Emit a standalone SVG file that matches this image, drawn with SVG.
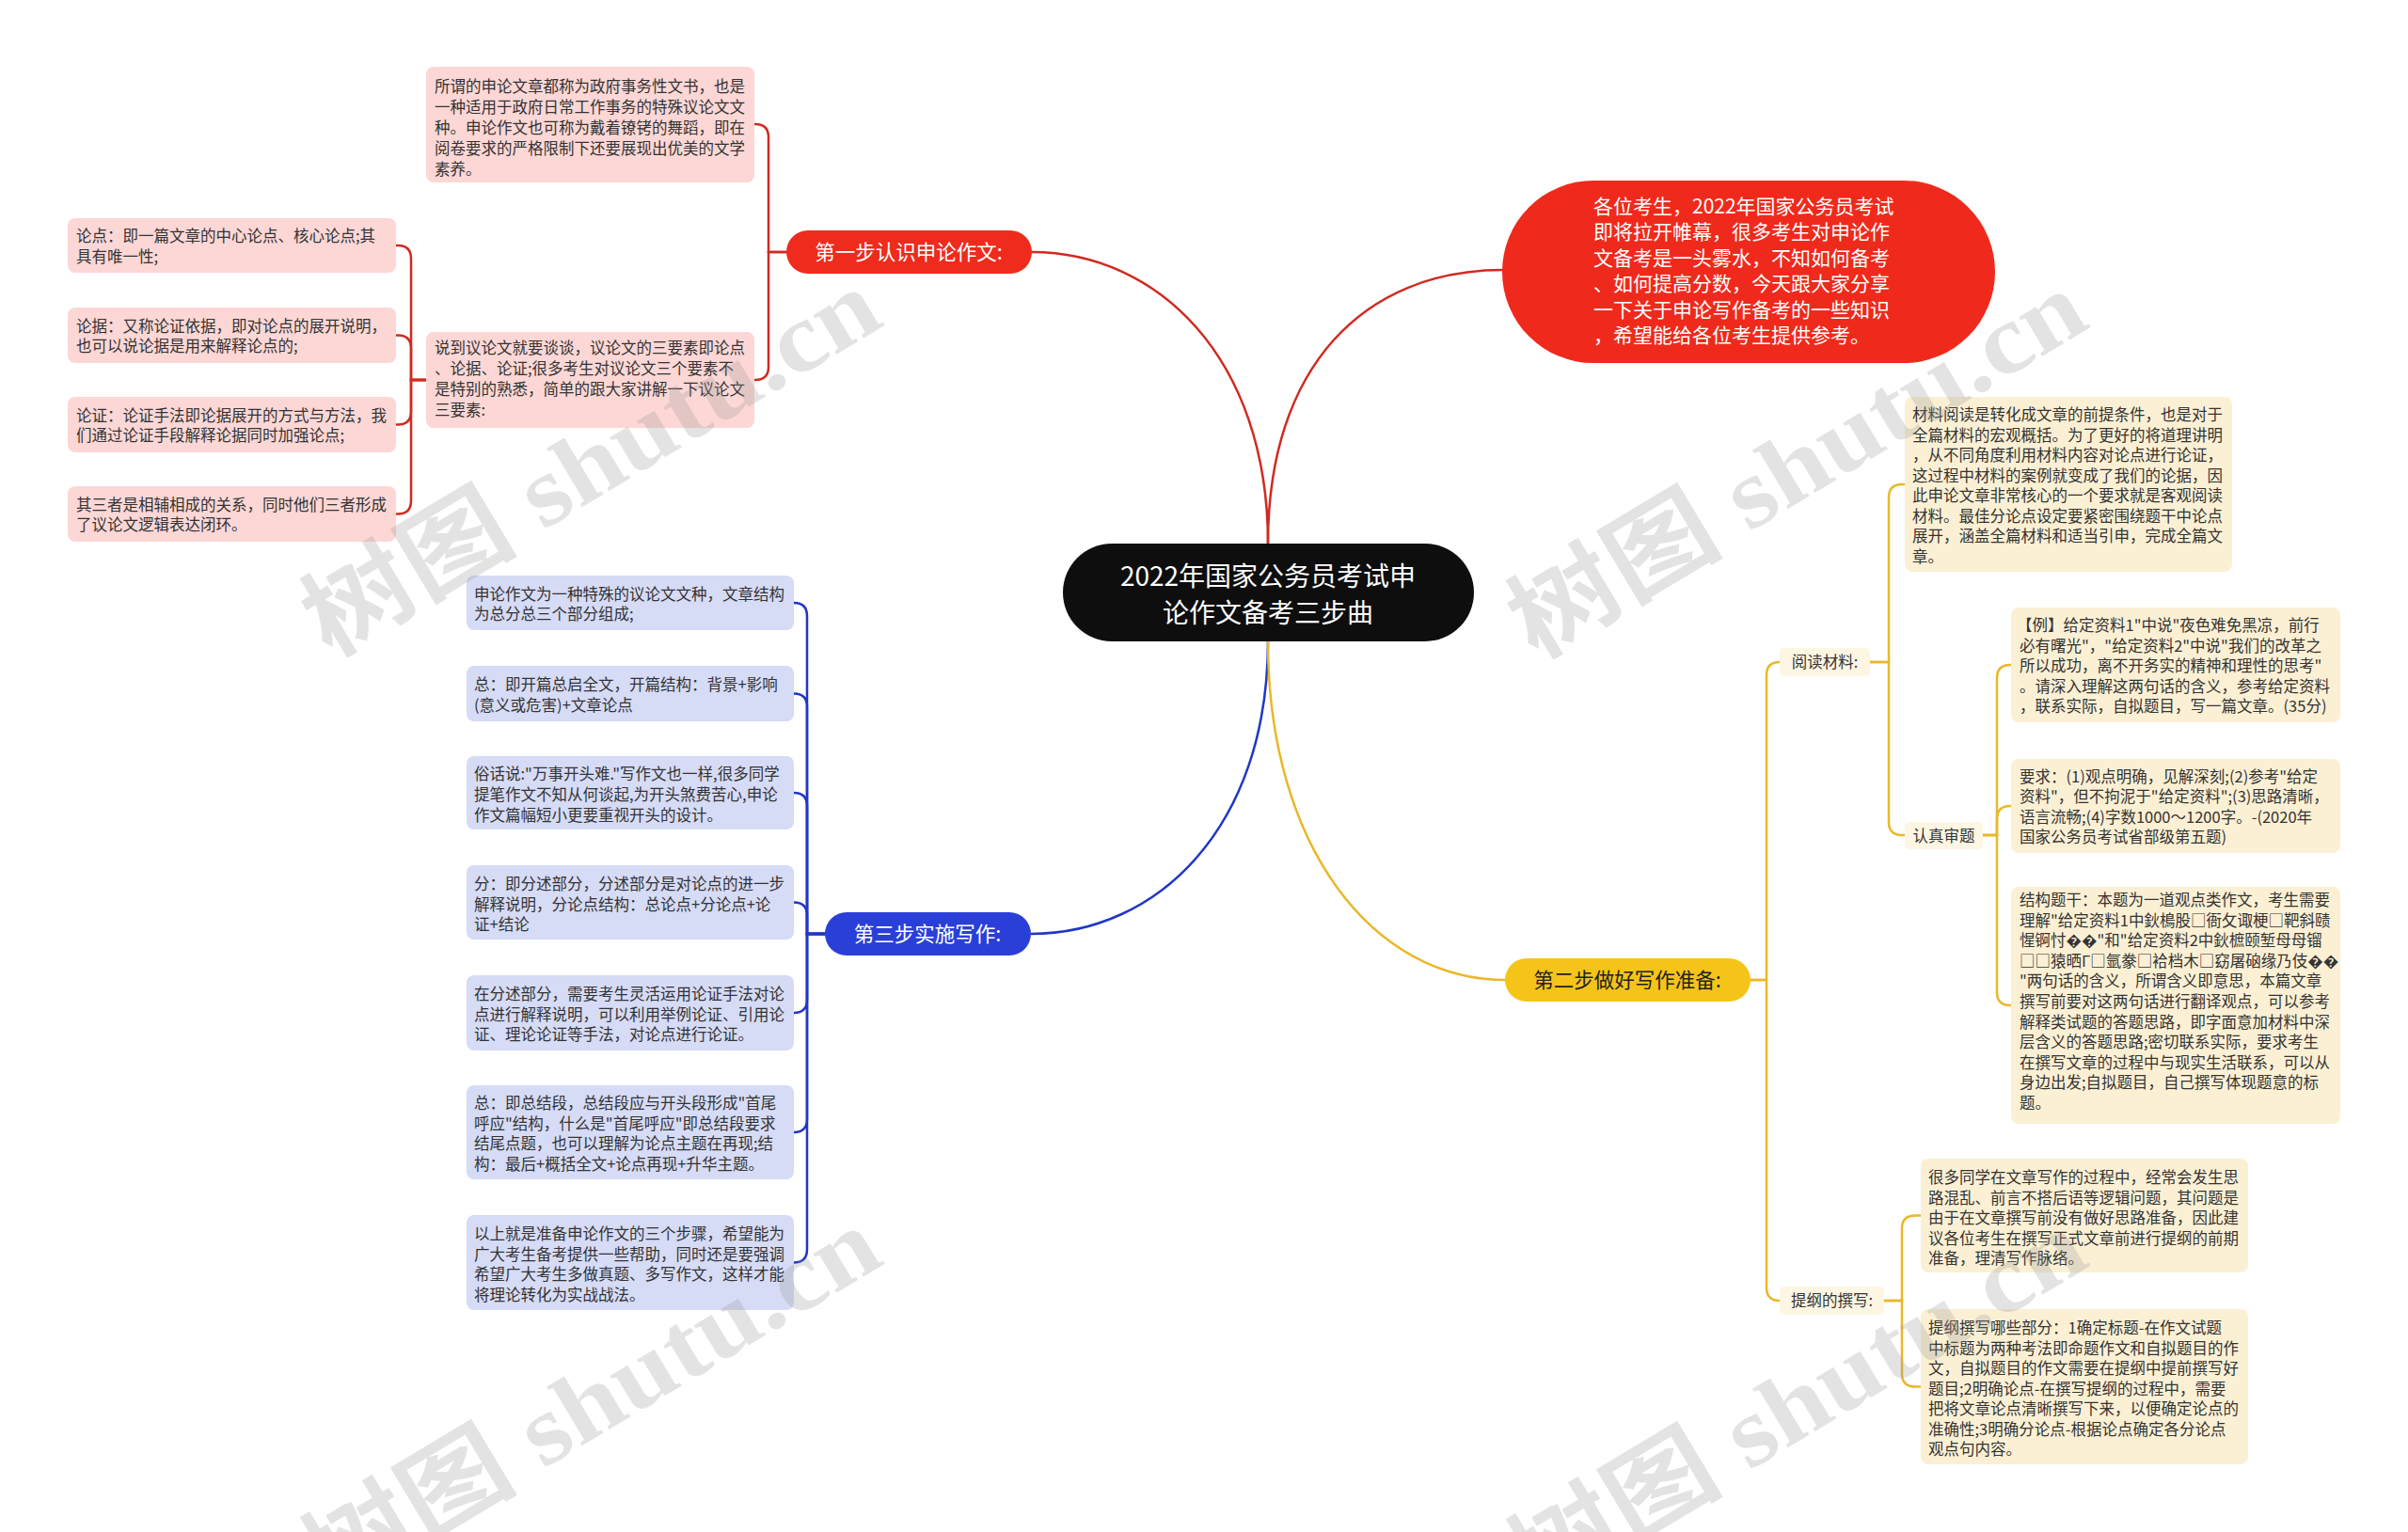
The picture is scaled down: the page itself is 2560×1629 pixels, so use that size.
<svg xmlns="http://www.w3.org/2000/svg" width="2560" height="1629" viewBox="0 0 2560 1629">
<style>
text{font-family:"Noto Sans CJK SC","Noto Sans",sans-serif;}
.leaf{font-size:16.5px;fill:#333333;}
.pk rect{fill:#fcd7d5;}
.bl rect{fill:#d6dbf6;}
.yl rect{fill:#fcf0d4;}
.lb rect{fill:#fdf6e3;}
.step{font-size:21.5px;text-anchor:middle;}
.con path{fill:none;stroke-width:2.5;stroke-linecap:round;}
.cr{stroke:#d02a20;}
.cb{stroke:#2037c4;}
.cy{stroke:#e9b82a;}
.wm{font-family:"Liberation Serif","Noto Sans CJK SC",serif;font-size:105px;font-weight:bold;fill:#9a9a9a;fill-opacity:0.28;}
</style>
<rect width="2560" height="1629" fill="#ffffff"/>
<g id="connectors" class="con">
<path class="cr" d="M1348 578 C1348 380,1230 268,1097 268"/>
<path class="cr" d="M1348 578 C1348 390,1450 287,1598 287"/>
<path class="cb" d="M1348 682 C1348 880,1230 993,1096 993"/>
<path class="cy" d="M1348 682 C1348 900,1460 1042,1600 1042"/>
<path class="cr" d="M836 268 H817 V146 Q817 132 803 132 H802"/>
<path class="cr" d="M836 268 H817 V390 Q817 404 803 404 H802"/>
<path class="cr" d="M453 404 H437 V275 Q437 261 423 261 H421"/>
<path class="cr" d="M453 404 H437 V370.5 Q437 356.5 423 356.5 H421"/>
<path class="cr" d="M453 404 H437 V437.5 Q437 451.5 423 451.5 H421"/>
<path class="cr" d="M453 404 H437 V532.5 Q437 546.5 423 546.5 H421"/>
<path class="cb" d="M877 993 H858 V655 Q858 641 844 641"/>
<path class="cb" d="M877 993 H858 V751.5 Q858 737.5 844 737.5"/>
<path class="cb" d="M877 993 H858 V857 Q858 843 844 843"/>
<path class="cb" d="M877 993 H858 V973.5 Q858 959.5 844 959.5"/>
<path class="cb" d="M877 993 H858 V1063 Q858 1077 844 1077"/>
<path class="cb" d="M877 993 H858 V1190 Q858 1204 844 1204"/>
<path class="cb" d="M877 993 H858 V1328.5 Q858 1342.5 844 1342.5"/>
<path class="cy" d="M1861 1042 H1878 V718 Q1878 704 1892 704"/>
<path class="cy" d="M1861 1042 H1878 V1369 Q1878 1383 1892 1383"/>
<path class="cy" d="M1988 704 H2008 V529 Q2008 515 2022 515 H2025"/>
<path class="cy" d="M1988 704 H2008 V874 Q2008 888 2022 888 H2025"/>
<path class="cy" d="M2108 888 H2123 V721 Q2123 707 2137 707 H2138"/>
<path class="cy" d="M2108 888 H2123 V871 Q2123 857 2137 857 H2138"/>
<path class="cy" d="M2108 888 H2123 V1055 Q2123 1069 2137 1069 H2138"/>
<path class="cy" d="M2003 1383 H2022 V1306.5 Q2022 1292.5 2036 1292.5 H2042"/>
<path class="cy" d="M2003 1383 H2022 V1460.5 Q2022 1474.5 2036 1474.5 H2042"/>
</g>
<g id="root">
<rect x="1130" y="578" width="437" height="104" rx="52" fill="#0e0e0e"/>
<text style="font-size:28px;fill:#ffffff;text-anchor:middle"><tspan x="1348" y="623">2022年国家公务员考试申</tspan><tspan x="1348" y="662">论作文备考三步曲</tspan></text>
</g>
<g id="intro">
<rect x="1597" y="192" width="524" height="194" rx="97" fill="#ef2a1c"/>
<text style="font-size:21px;fill:#ffffff"><tspan x="1694" y="226.5">各位考生，2022年国家公务员考试</tspan><tspan x="1694" y="254">即将拉开帷幕，很多考生对申论作</tspan><tspan x="1694" y="281.5">文备考是一头雾水，不知如何备考</tspan><tspan x="1694" y="309">、如何提高分数，今天跟大家分享</tspan><tspan x="1694" y="336.5">一下关于申论写作备考的一些知识</tspan><tspan x="1694" y="364">，希望能给各位考生提供参考。</tspan></text>
</g>
<g id="step1">
<rect x="836" y="245" width="261" height="46" rx="23" fill="#ee2b1d"/>
<text class="step" x="966" y="275.5" fill="#ffffff">第一步认识申论作文:</text>
</g>
<g id="step3">
<rect x="877" y="970" width="219" height="46" rx="23" fill="#2a3fd8"/>
<text class="step" x="986" y="1000.5" fill="#ffffff">第三步实施写作:</text>
</g>
<g id="step2">
<rect x="1600" y="1019" width="261" height="46" rx="23" fill="#f5c419"/>
<text class="step" x="1730" y="1049.5" fill="#222222">第二步做好写作准备:</text>
</g>
<g id="p-a" class="pk">
<rect x="453" y="71" width="349" height="123" rx="8"/>
<text class="leaf"><tspan x="462" y="98">所谓的申论文章都称为政府事务性文书，也是</tspan><tspan x="462" y="120">一种适用于政府日常工作事务的特殊议论文文</tspan><tspan x="462" y="142">种。申论作文也可称为戴着镣铐的舞蹈，即在</tspan><tspan x="462" y="164">阅卷要求的严格限制下还要展现出优美的文学</tspan><tspan x="462" y="186">素养。</tspan></text>
</g>
<g id="p-b" class="pk">
<rect x="453" y="353" width="349" height="102" rx="8"/>
<text class="leaf"><tspan x="462" y="376">说到议论文就要谈谈，议论文的三要素即论点</tspan><tspan x="462" y="398">、论据、论证;很多考生对议论文三个要素不</tspan><tspan x="462" y="420">是特别的熟悉，简单的跟大家讲解一下议论文</tspan><tspan x="462" y="442">三要素:</tspan></text>
</g>
<g id="p-1" class="pk">
<rect x="72" y="232" width="349" height="58" rx="8"/>
<text class="leaf"><tspan x="81" y="257">论点：即一篇文章的中心论点、核心论点;其</tspan><tspan x="81" y="279">具有唯一性;</tspan></text>
</g>
<g id="p-2" class="pk">
<rect x="72" y="327" width="349" height="59" rx="8"/>
<text class="leaf"><tspan x="81" y="352.5">论据：又称论证依据，即对论点的展开说明，</tspan><tspan x="81" y="374">也可以说论据是用来解释论点的;</tspan></text>
</g>
<g id="p-3" class="pk">
<rect x="72" y="422" width="349" height="59" rx="8"/>
<text class="leaf"><tspan x="81" y="447.5">论证：论证手法即论据展开的方式与方法，我</tspan><tspan x="81" y="469">们通过论证手段解释论据同时加强论点;</tspan></text>
</g>
<g id="p-4" class="pk">
<rect x="72" y="517" width="349" height="59" rx="8"/>
<text class="leaf"><tspan x="81" y="542.5">其三者是相辅相成的关系，同时他们三者形成</tspan><tspan x="81" y="564">了议论文逻辑表达闭环。</tspan></text>
</g>
<g id="b-1" class="bl">
<rect x="496" y="612" width="348" height="58" rx="8"/>
<text class="leaf"><tspan x="504" y="637.5">申论作文为一种特殊的议论文文种，文章结构</tspan><tspan x="504" y="659">为总分总三个部分组成;</tspan></text>
</g>
<g id="b-2" class="bl">
<rect x="496" y="708" width="348" height="59" rx="8"/>
<text class="leaf"><tspan x="504" y="734">总：即开篇总启全文，开篇结构：背景+影响</tspan><tspan x="504" y="755.5">(意义或危害)+文章论点</tspan></text>
</g>
<g id="b-3" class="bl">
<rect x="496" y="804" width="348" height="78" rx="8"/>
<text class="leaf"><tspan x="504" y="829">俗话说:"万事开头难."写作文也一样,很多同学</tspan><tspan x="504" y="851">提笔作文不知从何谈起,为开头煞费苦心,申论</tspan><tspan x="504" y="873">作文篇幅短小更要重视开头的设计。</tspan></text>
</g>
<g id="b-4" class="bl">
<rect x="496" y="920" width="348" height="79" rx="8"/>
<text class="leaf"><tspan x="504" y="945.5">分：即分述部分，分述部分是对论点的进一步</tspan><tspan x="504" y="967.5">解释说明，分论点结构：总论点+分论点+论</tspan><tspan x="504" y="989">证+结论</tspan></text>
</g>
<g id="b-5" class="bl">
<rect x="496" y="1037" width="348" height="80" rx="8"/>
<text class="leaf"><tspan x="504" y="1063">在分述部分，需要考生灵活运用论证手法对论</tspan><tspan x="504" y="1084.5">点进行解释说明，可以利用举例论证、引用论</tspan><tspan x="504" y="1106">证、理论论证等手法，对论点进行论证。</tspan></text>
</g>
<g id="b-6" class="bl">
<rect x="496" y="1154" width="348" height="100" rx="8"/>
<text class="leaf"><tspan x="504" y="1179">总：即总结段，总结段应与开头段形成"首尾</tspan><tspan x="504" y="1200.5">呼应"结构，什么是"首尾呼应"即总结段要求</tspan><tspan x="504" y="1222">结尾点题，也可以理解为论点主题在再现;结</tspan><tspan x="504" y="1243.5">构：最后+概括全文+论点再现+升华主题。</tspan></text>
</g>
<g id="b-7" class="bl">
<rect x="496" y="1292" width="348" height="101" rx="8"/>
<text class="leaf"><tspan x="504" y="1318">以上就是准备申论作文的三个步骤，希望能为</tspan><tspan x="504" y="1339.5">广大考生备考提供一些帮助，同时还是要强调</tspan><tspan x="504" y="1361">希望广大考生多做真题、多写作文，这样才能</tspan><tspan x="504" y="1382.5">将理论转化为实战战法。</tspan></text>
</g>
<g id="l-read" class="lb">
<rect x="1892" y="689" width="96" height="30" rx="5"/>
<text class="leaf" x="1940" y="710" text-anchor="middle">阅读材料:</text>
</g>
<g id="l-shenti" class="lb">
<rect x="2025" y="874" width="83" height="29" rx="5"/>
<text class="leaf" x="2066.5" y="894.5" text-anchor="middle">认真审题</text>
</g>
<g id="l-outline" class="lb">
<rect x="1892" y="1368" width="111" height="30" rx="5"/>
<text class="leaf" x="1947.5" y="1389" text-anchor="middle">提纲的撰写:</text>
</g>
<g id="y-1" class="yl">
<rect x="2025" y="422" width="348" height="186" rx="8"/>
<text class="leaf"><tspan x="2033" y="447">材料阅读是转化成文章的前提条件，也是对于</tspan><tspan x="2033" y="468.5">全篇材料的宏观概括。为了更好的将道理讲明</tspan><tspan x="2033" y="490">，从不同角度利用材料内容对论点进行论证，</tspan><tspan x="2033" y="511.5">这过程中材料的案例就变成了我们的论据，因</tspan><tspan x="2033" y="533">此申论文章非常核心的一个要求就是客观阅读</tspan><tspan x="2033" y="554.5">材料。最佳分论点设定要紧密围绕题干中论点</tspan><tspan x="2033" y="576">展开，涵盖全篇材料和适当引申，完成全篇文</tspan><tspan x="2033" y="597.5">章。</tspan></text>
</g>
<g id="y-2" class="yl">
<rect x="2138" y="646" width="350" height="122" rx="8"/>
<text class="leaf"><tspan x="2144" y="671">【例】给定资料1"中说"夜色难免黑凉，前行</tspan><tspan x="2147" y="692.5">必有曙光"，"给定资料2"中说"我们的改革之</tspan><tspan x="2147" y="714">所以成功，离不开务实的精神和理性的思考"</tspan><tspan x="2147" y="735.5">。请深入理解这两句话的含义，参考给定资料</tspan><tspan x="2147" y="757">，联系实际，自拟题目，写一篇文章。(35分)</tspan></text>
</g>
<g id="y-3" class="yl">
<rect x="2138" y="807" width="350" height="100" rx="8"/>
<text class="leaf"><tspan x="2147" y="831.5">要求：(1)观点明确，见解深刻;(2)参考"给定</tspan><tspan x="2147" y="853">资料"，但不拘泥于"给定资料";(3)思路清晰，</tspan><tspan x="2147" y="874.5">语言流畅;(4)字数1000～1200字。-(2020年</tspan><tspan x="2147" y="896">国家公务员考试省部级第五题)</tspan></text>
</g>
<g id="y-4" class="yl">
<rect x="2138" y="943" width="350" height="252" rx="8"/>
<text class="leaf"><tspan x="2147" y="963">结构题干：本题为一道观点类作文，考生需要</tspan><tspan x="2147" y="984.6">理解"给定资料1中鈥樢股□衙攵诹梗□靶斜赜</tspan><tspan x="2147" y="1006.2">惺锕忖��"和"给定资料2中鈥樜颐堑母母镏</tspan><tspan x="2147" y="1027.8">□□猿晒Γ□氩豢□袷档木□窈屠硇缘乃伎��</tspan><tspan x="2147" y="1049.4">"两句话的含义，所谓含义即意思，本篇文章</tspan><tspan x="2147" y="1071">撰写前要对这两句话进行翻译观点，可以参考</tspan><tspan x="2147" y="1092.6">解释类试题的答题思路，即字面意加材料中深</tspan><tspan x="2147" y="1114.2">层含义的答题思路;密切联系实际，要求考生</tspan><tspan x="2147" y="1135.8">在撰写文章的过程中与现实生活联系，可以从</tspan><tspan x="2147" y="1157.4">身边出发;自拟题目，自己撰写体现题意的标</tspan><tspan x="2147" y="1179">题。</tspan></text>
</g>
<g id="y-5" class="yl">
<rect x="2042" y="1232" width="348" height="121" rx="8"/>
<text class="leaf"><tspan x="2050" y="1258">很多同学在文章写作的过程中，经常会发生思</tspan><tspan x="2050" y="1279.5">路混乱、前言不搭后语等逻辑问题，其问题是</tspan><tspan x="2050" y="1301">由于在文章撰写前没有做好思路准备，因此建</tspan><tspan x="2050" y="1322.5">议各位考生在撰写正式文章前进行提纲的前期</tspan><tspan x="2050" y="1344">准备，理清写作脉络。</tspan></text>
</g>
<g id="y-6" class="yl">
<rect x="2042" y="1392" width="348" height="165" rx="8"/>
<text class="leaf"><tspan x="2050" y="1418">提纲撰写哪些部分：1确定标题-在作文试题</tspan><tspan x="2050" y="1439.5">中标题为两种考法即命题作文和自拟题目的作</tspan><tspan x="2050" y="1461">文，自拟题目的作文需要在提纲中提前撰写好</tspan><tspan x="2050" y="1482.5">题目;2明确论点-在撰写提纲的过程中，需要</tspan><tspan x="2050" y="1504">把将文章论点清晰撰写下来，以便确定论点的</tspan><tspan x="2050" y="1525.5">准确性;3明确分论点-根据论点确定各分论点</tspan><tspan x="2050" y="1547">观点句内容。</tspan></text>
</g>
<g id="watermarks">
<text class="wm" x="351" y="700" transform="rotate(-31 351 700)" textLength="690" lengthAdjust="spacingAndGlyphs">树图 shutu.cn</text>
<text class="wm" x="1633" y="702" transform="rotate(-31 1633 702)" textLength="690" lengthAdjust="spacingAndGlyphs">树图 shutu.cn</text>
<text class="wm" x="351" y="1698" transform="rotate(-31 351 1698)" textLength="690" lengthAdjust="spacingAndGlyphs">树图 shutu.cn</text>
<text class="wm" x="1633" y="1700" transform="rotate(-31 1633 1700)" textLength="690" lengthAdjust="spacingAndGlyphs">树图 shutu.cn</text>
</g>
</svg>
